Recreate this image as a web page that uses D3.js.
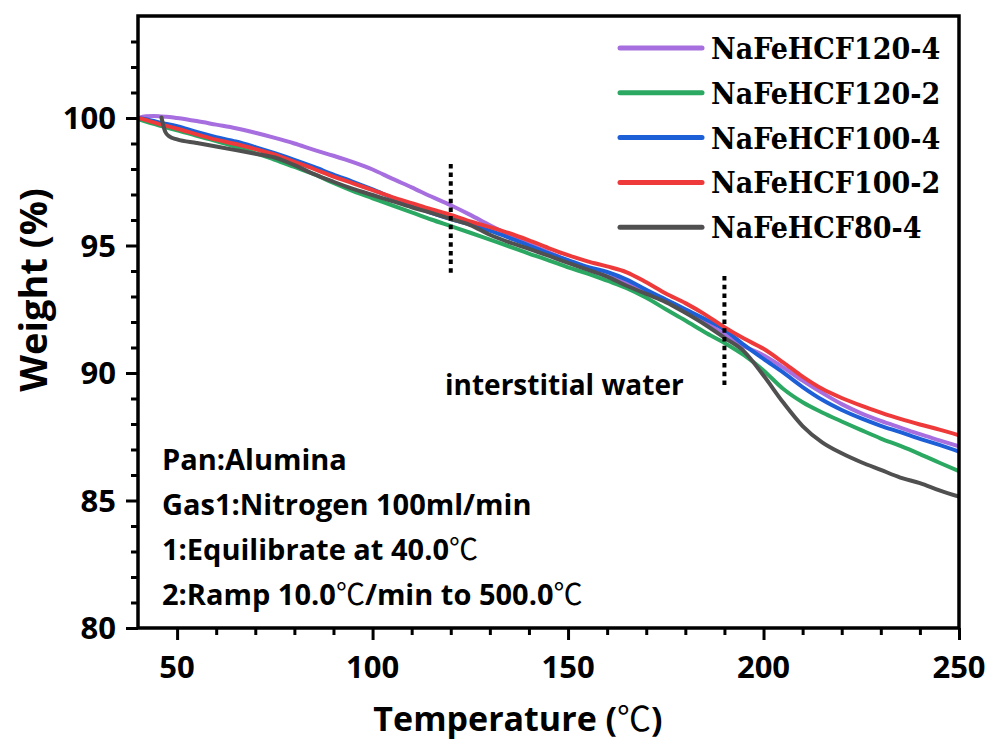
<!DOCTYPE html>
<html>
<head>
<meta charset="utf-8">
<script src="https://cdn.jsdelivr.net/npm/d3@7"></script>
<style>
  body { margin: 0; background: #fff; }
  svg { display: block; }
</style>
</head>
<body>
<svg id="chart" width="995" height="740"></svg>
<script>
// TGA curves: temperature (°C) vs. remaining weight (%)
const temps = [40, 42, 44, 46, 47, 48, 50, 55, 60, 65, 70, 75, 80, 85, 90, 95, 100,
  105, 110, 115, 120, 125, 130, 135, 140, 145, 150, 155, 160, 165, 170, 175, 180,
  185, 190, 195, 200, 205, 210, 215, 220, 225, 230, 235, 240, 245, 250];

const w120_4 = [100.0, 100.07, 100.08, 100.06, 100.05, 100.04, 100.0, 99.88, 99.74, 99.6,
  99.42, 99.22, 99.0, 98.75, 98.52, 98.27, 97.98, 97.62, 97.28, 96.92, 96.58, 96.2,
  95.79, 95.41, 95.06, 94.73, 94.4, 94.06, 93.79, 93.56, 93.22, 92.85, 92.45, 92.0,
  91.52, 91.05, 90.7, 90.22, 89.7, 89.22, 88.78, 88.42, 88.12, 87.86, 87.6, 87.36, 87.12];

const w120_2 = [99.95, 99.86, 99.77, 99.68, 99.64, 99.6, 99.52, 99.3, 99.1, 98.87,
  98.62, 98.36, 98.08, 97.8, 97.45, 97.13, 96.85, 96.57, 96.3, 96.02, 95.76, 95.5,
  95.23, 94.96, 94.68, 94.42, 94.14, 93.9, 93.62, 93.33, 92.95, 92.5, 92.06, 91.6,
  91.18, 90.7, 90.1, 89.38, 88.85, 88.45, 88.1, 87.76, 87.43, 87.14, 86.82, 86.48, 86.15];

const w100_4 = [100.0, 99.95, 99.88, 99.81, 99.78, 99.75, 99.68, 99.45, 99.25, 99.08,
  98.86, 98.62, 98.36, 98.08, 97.78, 97.5, 97.2, 96.88, 96.58, 96.28, 96.04, 95.82,
  95.58, 95.3, 95.0, 94.7, 94.43, 94.16, 93.96, 93.66, 93.26, 92.88, 92.5, 92.12,
  91.7, 91.1, 90.55, 90.02, 89.45, 88.95, 88.55, 88.22, 87.93, 87.68, 87.42, 87.18, 86.92];

const w100_2 = [100.0, 99.92, 99.83, 99.74, 99.7, 99.66, 99.58, 99.36, 99.15, 98.98,
  98.78, 98.56, 98.28, 98.0, 97.7, 97.44, 97.17, 96.9, 96.66, 96.42, 96.2, 95.94,
  95.72, 95.48, 95.2, 94.9, 94.62, 94.38, 94.18, 93.95, 93.56, 93.12, 92.74, 92.3,
  91.8, 91.35, 90.95, 90.42, 89.86, 89.38, 89.02, 88.72, 88.45, 88.2, 87.98, 87.78, 87.56];

const w80_4 = [null, null, null, 100.02, 99.45, 99.28, 99.16, 99.02, 98.88, 98.74,
  98.6, 98.45, 98.15, 97.8, 97.5, 97.22, 96.98, 96.74, 96.5, 96.28, 96.04, 95.8,
  95.42, 95.12, 94.87, 94.6, 94.32, 94.05, 93.78, 93.42, 93.1, 92.78, 92.36, 91.9,
  91.38, 90.85, 89.9, 88.85, 87.92, 87.28, 86.85, 86.5, 86.2, 85.9, 85.68, 85.4, 85.15];

const seriesNames = ["NaFeHCF120-4", "NaFeHCF120-2", "NaFeHCF100-4", "NaFeHCF100-2", "NaFeHCF80-4"];
const seriesValues = [w120_4, w120_2, w100_4, w100_2, w80_4];
const seriesColors = ["#a66ede", "#2ba862", "#1c5fd7", "#ee3a3a", "#505050"];

const xMajorTicks = [50, 100, 150, 200, 250];
const xMinorTicks = [60, 70, 80, 90, 110, 120, 130, 140, 160, 170, 180, 190, 210, 220, 230, 240];
const yMajorTicks = [80, 85, 90, 95, 100];
const yMinorTicks = [81, 82, 83, 84, 86, 87, 88, 89, 91, 92, 93, 94, 96, 97, 98, 99, 101, 102, 103];

// dotted guides bounding the interstitial-water loss region
const guideTemps = [120, 190];
const guideTops = [98.2, 93.8];
const guideBottoms = [93.8, 89.4];

const noteLines = [
  "Pan:Alumina",
  "Gas1:Nitrogen 100ml/min",
  "1:Equilibrate at 40.0\u2103",
  "2:Ramp 10.0\u2103/min to 500.0\u2103"
];

const W = 995, H = 740;
const margin = { top: 16, right: 36, bottom: 112, left: 138 };
const svg = d3.select("#chart");
const sansFont = "'Open Sans', 'Noto Sans', sans-serif";
const degFont = "'Noto Sans CJK SC', 'DejaVu Sans', sans-serif";

const x = d3.scaleLinear().domain([40, 250]).range([margin.left, W - margin.right]);
const y = d3.scaleLinear().domain([80, 104]).range([H - margin.bottom, margin.top]);

// tick marks via D3 axes (labels drawn separately)
const xMinorAxis = d3.axisBottom(x).tickValues(xMinorTicks).tickSize(7).tickFormat("");
const xMajorAxis = d3.axisBottom(x).tickValues(xMajorTicks).tickSize(12).tickFormat("");
const yMinorAxis = d3.axisLeft(y).tickValues(yMinorTicks).tickSize(7).tickFormat("");
const yMajorAxis = d3.axisLeft(y).tickValues(yMajorTicks).tickSize(12).tickFormat("");

function styleAxis(g) {
  g.select(".domain").remove();
  g.selectAll(".tick line").attr("stroke", "#000").attr("stroke-width", 3);
}
[xMinorAxis, xMajorAxis].forEach(a => svg.append("g")
  .attr("transform", `translate(0,${H - margin.bottom})`).call(a).call(styleAxis));
[yMinorAxis, yMajorAxis].forEach(a => svg.append("g")
  .attr("transform", `translate(${margin.left},0)`).call(a).call(styleAxis));

// tick labels
svg.append("g").selectAll("text").data(xMajorTicks).join("text")
  .attr("x", d => x(d)).attr("y", H - margin.bottom + 50)
  .attr("text-anchor", "middle")
  .style("font-family", sansFont).style("font-weight", 700).style("font-size", "31px")
  .text(d => d);
svg.append("g").selectAll("text").data(yMajorTicks).join("text")
  .attr("x", margin.left - 22).attr("y", d => y(d) + 11)
  .attr("text-anchor", "end")
  .style("font-family", sansFont).style("font-weight", 700).style("font-size", "31px")
  .text(d => d);

// data lines
const points = seriesValues.map(vals => temps.map((t, i) => ({ t, w: vals[i] })));
const line = d3.line()
  .defined(d => d.w !== null)
  .x(d => x(d.t)).y(d => y(d.w))
  .curve(d3.curveMonotoneX);

svg.append("defs").append("clipPath").attr("id", "plotClip")
  .append("rect")
  .attr("x", margin.left).attr("y", margin.top)
  .attr("width", W - margin.left - margin.right)
  .attr("height", H - margin.top - margin.bottom);

svg.append("g").attr("clip-path", "url(#plotClip)")
  .selectAll("path").data(points).join("path")
  .attr("d", line)
  .attr("fill", "none")
  .attr("stroke", (d, i) => seriesColors[i])
  .attr("stroke-width", 4)
  .attr("stroke-linejoin", "round")
  .attr("stroke-linecap", "round");

// dotted guides
svg.append("g").selectAll("line").data(guideTemps).join("line")
  .attr("x1", d => x(d)).attr("x2", d => x(d))
  .attr("y1", (d, i) => y(guideTops[i])).attr("y2", (d, i) => y(guideBottoms[i]))
  .attr("stroke", "#000").attr("stroke-width", 4)
  .attr("stroke-dasharray", "4.5,4.2");

// frame
svg.append("rect")
  .attr("x", margin.left).attr("y", margin.top)
  .attr("width", W - margin.left - margin.right)
  .attr("height", H - margin.top - margin.bottom)
  .attr("fill", "none").attr("stroke", "#000").attr("stroke-width", 3.5);

// annotation
svg.append("text")
  .attr("x", 445).attr("y", 395)
  .style("font-family", sansFont).style("font-weight", 700).style("font-size", "28px")
  .text("interstitial water");

// instrument notes
const notes = svg.append("g");
noteLines.forEach((s, i) => {
  const t = notes.append("text")
    .attr("x", margin.left + 24).attr("y", 470 + i * 45)
    .style("font-family", sansFont).style("font-weight", 700).style("font-size", "29px");
  s.split(/(\u2103)/).filter(p => p.length).forEach(p => {
    const ts = t.append("tspan").text(p);
    if (p === "\u2103") ts.style("font-family", degFont).style("font-weight", 400);
  });
});

// legend
const legend = svg.append("g");
seriesNames.forEach((name, i) => {
  const cy = 48 + i * 44.8;
  legend.append("line")
    .attr("x1", 620).attr("x2", 702).attr("y1", cy).attr("y2", cy)
    .attr("stroke", seriesColors[i]).attr("stroke-width", 5)
    .attr("stroke-linecap", "round");
  legend.append("text")
    .attr("x", 711).attr("y", cy + 11)
    .style("font-family", "'DejaVu Serif Condensed', 'DejaVu Serif', serif")
    .style("font-stretch", "condensed")
    .style("font-weight", 700).style("font-size", "30px")
    .text(name);
});

// axis titles
const xt = svg.append("text")
  .attr("x", 518).attr("y", 731).attr("text-anchor", "middle")
  .style("font-family", sansFont).style("font-weight", 700).style("font-size", "34px");
xt.append("tspan").text("Temperature (");
xt.append("tspan").text("\u2103").style("font-family", degFont).style("font-weight", 400);
xt.append("tspan").text(")");

svg.append("text")
  .attr("transform", "translate(47,290) rotate(-90)")
  .attr("text-anchor", "middle")
  .style("font-family", sansFont).style("font-weight", 700).style("font-size", "38px")
  .text("Weight (%)");
</script>
</body>
</html>
